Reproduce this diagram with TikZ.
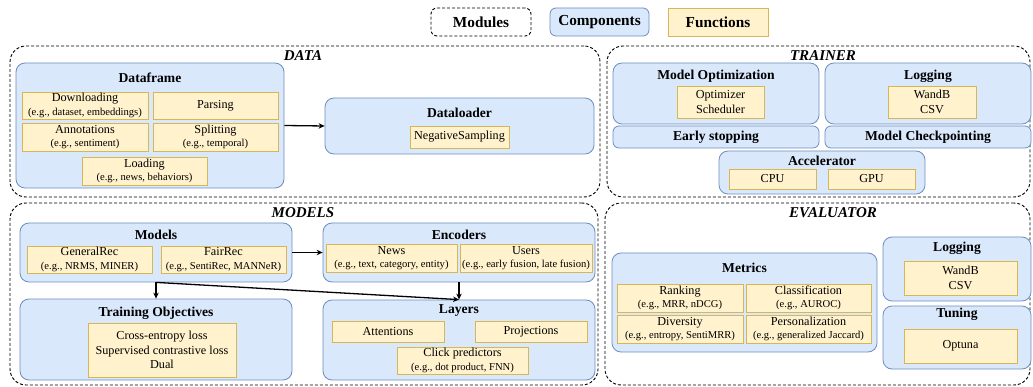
\documentclass[tikz,border=0pt]{standalone}
\usepackage{fontspec}
\setmainfont{Liberation Serif}
\usetikzlibrary{arrows.meta}
\definecolor{compfill}{HTML}{DAE8FC}
\definecolor{compdraw}{HTML}{6C8EBF}
\definecolor{funcfill}{HTML}{FFF2CC}
\definecolor{funcdraw}{HTML}{D6B656}
\newcommand{\tfnt}{\fontsize{13.6}{15}\selectfont\bfseries}
\newcommand{\ffnt}{\fontsize{12.2}{13.5}\selectfont}
\newcommand{\fffnt}{\fontsize{12.2}{14.5}\selectfont}
\newcommand{\rfnt}{\fontsize{15}{17}\selectfont\bfseries\itshape}
\newcommand{\lfnt}{\fontsize{15.3}{17}\selectfont\bfseries}
\newcommand{\egtxt}[1]{{\fontsize{10.6}{13}\selectfont #1}}
\tikzset{
  bx/.style n args={4}{at={({(#1+#3)/2},{(#2+#4)/2})}, minimum width={(#3-#1)*1pt}, minimum height={(#4-#2)*1pt}},
  comp/.style={draw=compdraw, fill=compfill, rounded corners=9pt, line width=0.8pt, inner sep=0pt},
  func/.style={draw=funcdraw, fill=funcfill, line width=0.8pt, inner sep=0pt, align=center, font=\ffnt},
  func3/.style={func, font=\fffnt},
  region/.style={draw=black, dash pattern=on 3pt off 2pt, rounded corners=16pt, line width=0.9pt, inner sep=0pt},
  ttl/.style={font=\tfnt, inner sep=0pt},
  rlabel/.style={font=\rfnt, inner sep=0pt},
  arr/.style={-{Stealth[length=6pt,width=5.5pt]}, line width=1.3pt}
}
\begin{document}
\begin{tikzpicture}[x=1pt,y=-1pt]
\useasboundingbox (0,0) rectangle (1033,387);

% legend
\node[region, rounded corners=6pt, bx={431}{8}{531}{36}, font=\lfnt] (lgmod) {Modules};
\node[comp, rounded corners=6pt, bx={550}{8}{649}{36}, font=\lfnt] (lgcomp) {Components};
\node[func, bx={668}{8}{768}{36}, font=\lfnt] (lgfunc) {Functions};

% regions
\node[region, bx={10}{46}{600}{197}] (rdata) {};
\node[region, bx={607}{46}{1030}{197}] (rtrainer) {};
\node[region, bx={10}{203}{598}{385}] (rmodels) {};
\node[region, bx={605}{203}{1030}{385}] (reval) {};
\node[rlabel] (ldata) at (303,56) {DATA};
\node[rlabel] (ltrainer) at (823,56) {TRAINER};
\node[rlabel] (lmodels) at (303,213) {MODELS};
\node[rlabel] (leval) at (833,213) {EVALUATOR};

% DATA
\node[comp, bx={16}{63}{284}{188}] (df) {};
\node[ttl] (dft) at (150,78) {Dataframe};
\node[func, bx={22}{92}{148}{119}] (fdown) {Downloading\\\egtxt{(e.g., dataset, embeddings)}};
\node[func, bx={153}{92}{278}{119}] (fparse) {Parsing};
\node[func, bx={22}{123}{148}{151}] (fann) {Annotations\\\egtxt{(e.g., sentiment)}};
\node[func, bx={153}{123}{278}{151}] (fsplit) {Splitting\\\egtxt{(e.g., temporal)}};
\node[func, bx={82}{157}{207}{185}] (fload) {Loading\\\egtxt{(e.g., news, behaviors)}};

\node[comp, bx={325}{98}{594}{154}] (dl) {};
\node[ttl] (dlt) at (459.5,113) {Dataloader};
\node[func, bx={410}{126}{509}{148}] (fneg) {NegativeSampling};

\draw[arr] (df.east) -- (dl.west);

% TRAINER
\node[comp, bx={613}{63}{819}{124}] (mo) {};
\node[ttl] (mot) at (716,76) {Model Optimization};
\node[func3, bx={677}{86}{764}{118}] (fopt) {Optimizer\\Scheduler};
\node[comp, bx={825}{63}{1031}{124}] (tlog) {};
\node[ttl] (tlogt) at (928,76) {Logging};
\node[func3, bx={888}{86}{976}{118}] (ftlog) {WandB\\CSV};
\node[comp, bx={613}{126}{819}{148}, font=\tfnt, rounded corners=6pt] (es) {Early stopping};
\node[comp, bx={825}{126}{1031}{148}, font=\tfnt, rounded corners=6pt] (mc) {Model Checkpointing};
\node[comp, bx={719}{151}{925}{194}] (acc) {};
\node[ttl] (acct) at (822,161) {Accelerator};
\node[func, bx={729}{169}{816}{189}] (fcpu) {CPU};
\node[func, bx={828}{169}{915}{189}] (fgpu) {GPU};

% MODELS
\node[comp, bx={20}{223}{292}{282}] (mods) {};
\node[ttl] (modst) at (156,235) {Models};
\node[func, bx={27}{246}{152}{273}] (fgen) {GeneralRec\\\egtxt{(e.g., NRMS, MINER)}};
\node[func, bx={161}{246}{286}{273}] (ffair) {FairRec\\\egtxt{(e.g., SentiRec, MANNeR)}};

\node[comp, bx={20}{299}{292}{380}] (to) {};
\node[ttl] (tot) at (156,313) {Training Objectives};
\node[func3, bx={88}{323}{236}{377}] (floss) {Cross-entropy loss\\Supervised contrastive loss\\Dual};

\node[comp, bx={323}{223}{595}{282}] (enc) {};
\node[ttl] (enct) at (459,235) {Encoders};
\node[func, bx={326}{244}{457}{272}] (fnews) {News\\\egtxt{(e.g., text, category, entity)}};
\node[func, bx={460}{244}{592}{272}] (fusers) {Users\\\egtxt{(e.g., early fusion, late fusion)}};

\node[comp, bx={323}{300}{595}{380}] (lay) {};
\node[ttl] (layt) at (459,311) {Layers};
\node[func, bx={332}{321}{444}{342}] (fatt) {Attentions};
\node[func, bx={475}{321}{587}{342}] (fproj) {Projections};
\node[func, bx={397}{347}{528}{374}] (fclick) {Click predictors\\\egtxt{(e.g., dot product, FNN)}};

\draw[arr] (mods.east) -- (enc.west);
\draw[arr] (mods.south) -- (to.north);
\draw[arr] (mods.south) -- (lay.north);
\draw[arr] (enc.south) -- (lay.north);

% EVALUATOR
\node[comp, bx={612}{253}{877}{352}] (met) {};
\node[ttl] (mett) at (744.5,268) {Metrics};
\node[func, bx={617}{284}{743}{312}] (frank) {Ranking\\\egtxt{(e.g., MRR, nDCG)}};
\node[func, bx={746}{284}{871}{312}] (fclass) {Classification\\\egtxt{(e.g., AUROC)}};
\node[func, bx={617}{315}{743}{343}] (fdiv) {Diversity\\\egtxt{(e.g., entropy, SentiMRR)}};
\node[func, bx={746}{315}{871}{343}] (fpers) {Personalization\\\egtxt{(e.g., generalized Jaccard)}};

\node[comp, bx={883}{237}{1031}{301}] (elog) {};
\node[ttl] (elogt) at (957,248) {Logging};
\node[func3, bx={904}{261}{1017}{295}] (felog) {WandB\\CSV};
\node[comp, bx={883}{306}{1031}{369}] (tun) {};
\node[ttl] (tunt) at (957,314) {Tuning};
\node[func, bx={904}{329}{1017}{363}] (fopt2) {Optuna};
\end{tikzpicture}
\end{document}
